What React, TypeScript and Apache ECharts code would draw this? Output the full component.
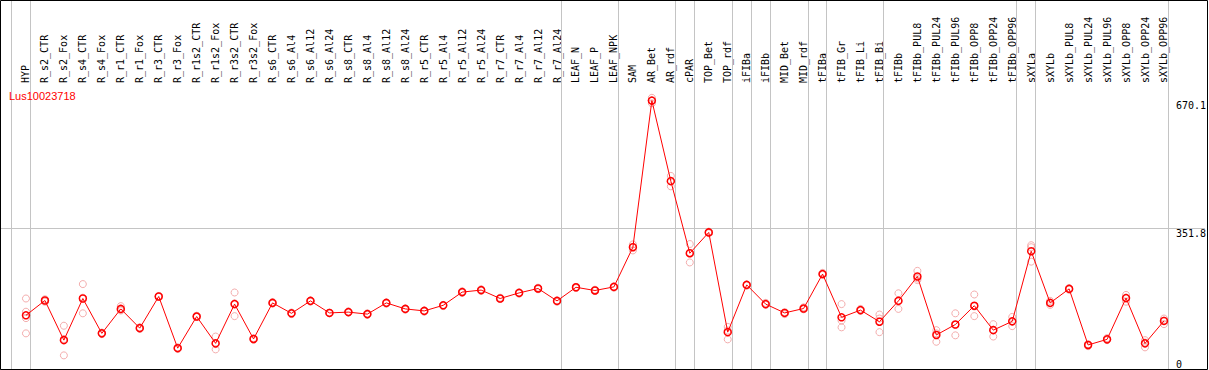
import { useEffect, useRef } from 'react';
import * as echarts from 'echarts';

const seriesName = 'Lus10023718';

const categories = [
  'HYP', 'R_s2_CTR', 'R_s2_Fox', 'R_s4_CTR', 'R_s4_Fox', 'R_r1_CTR', 'R_r1_Fox', 'R_r3_CTR', 'R_r3_Fox',
  'R_r1s2_CTR', 'R_r1s2_Fox', 'R_r3s2_CTR', 'R_r3s2_Fox', 'R_s6_CTR', 'R_s6_Al4', 'R_s6_Al12', 'R_s6_Al24',
  'R_s8_CTR', 'R_s8_Al4', 'R_s8_Al12', 'R_s8_Al24', 'R_r5_CTR', 'R_r5_Al4', 'R_r5_Al12', 'R_r5_Al24',
  'R_r7_CTR', 'R_r7_Al4', 'R_r7_Al12', 'R_r7_Al24', 'LEAF_N', 'LEAF_P', 'LEAF_NPK', 'SAM', 'AR_Bet', 'AR_rdf',
  'cPAR', 'TOP_Bet', 'TOP_rdf', 'iFIBa', 'iFIBb', 'MID_Bet', 'MID_rdf', 'tFIBa', 'tFIB_Gr', 'tFIB_Li', 'tFIB_Bi',
  'tFIBb', 'tFIBb_PUL8', 'tFIBb_PUL24', 'tFIBb_PUL96', 'tFIBb_OPP8', 'tFIBb_OPP24', 'tFIBb_OPP96',
  'sXYLa', 'sXYLb', 'sXYLb_PUL8', 'sXYLb_PUL24', 'sXYLb_PUL96', 'sXYLb_OPP8', 'sXYLb_OPP24', 'sXYLb_OPP96',
];

const meanValues = [
  134, 171, 72, 176, 89, 150, 102, 181, 52,
  131, 64, 162, 75, 165, 139, 170, 140,
  142, 137, 165, 150, 145, 159, 192, 197,
  176, 190, 201, 170, 204, 196, 205, 304, 670.1, 469,
  289, 341, 92, 210, 162, 140, 151, 237, 129, 147, 118,
  170, 231, 85, 111, 158, 97, 119,
  294, 165, 200, 60, 74, 177, 64, 120,
];

const replicateValues = [
  [176, 143, 127, 89], [168, 172, 174], [108, 75, 34], [212, 178, 139], [87, 89, 91],
  [157, 148, 146], [100, 103, 104], [180, 182, 182], [50, 53, 54],
  [130, 131, 133], [81, 62, 49], [191, 164, 132], [73, 75, 77], [163, 165, 167],
  [137, 139, 141], [168, 170, 171], [139, 140, 141],
  [141, 142, 144], [135, 137, 139], [163, 165, 166], [148, 150, 151], [143, 145, 146],
  [157, 159, 160], [190, 192, 194], [195, 197, 199],
  [175, 176, 178], [188, 190, 191], [199, 201, 203], [168, 170, 171], [202, 204, 205],
  [195, 196, 198], [203, 205, 206], [311, 305, 296], [677, 670, 663.3], [482, 469, 456],
  [312, 290, 266], [339, 341, 343], [105, 96, 74], [208, 210, 211], [160, 162, 165],
  [137, 140, 142], [149, 151, 154], [235, 237, 240], [162, 121, 104], [145, 147, 150], [136, 126, 92],
  [189, 171, 150], [245, 226, 222], [97, 89, 68], [139, 111, 84], [186, 156, 132], [112, 98, 81], [130, 119, 107],
  [309, 304, 268], [160, 165, 170], [198, 200, 202], [57, 60, 62], [72, 74, 77], [185, 178, 168], [72, 66, 54],
  [126, 121, 112],
];

// number of categories in each sample group (separators drawn between groups)
const groupSizes = [1, 28, 3, 3, 1, 2, 1, 1, 2, 1, 3, 7, 1, 7];

const yTickLabels = [0, 351.8, 670.1];

const MONO = 'DejaVu Sans Mono';

export default function App() {
  const ref = useRef<HTMLDivElement>(null);

  useEffect(() => {
    document.body.style.margin = '0';
    const chart = echarts.init(ref.current!, null, { renderer: 'svg' });

    const xMin = -25 / 19;
    const xMax = xMin + 1206 / 19;
    const sepOffset = 0.22;

    const sepIdx: number[] = [-1];
    let acc = -1;
    groupSizes.forEach((s) => {
      acc += s;
      sepIdx.push(acc);
    });

    const markData: any[] = sepIdx.map((i) => [
      { xAxis: i + sepOffset, y: 0 },
      { xAxis: i + sepOffset, y: 369 },
    ]);
    markData.push({ yAxis: yTickLabels[1] });

    chart.setOption({
      animation: false,
      title: {
        text: seriesName,
        left: 9,
        top: 90,
        padding: 0,
        textStyle: { color: '#ff0000', fontSize: 11, fontWeight: 'normal', fontFamily: 'Liberation Sans' },
      },
      grid: { left: 1, right: 2, top: 85, bottom: 1, containLabel: false },
      xAxis: {
        type: 'value',
        position: 'top',
        min: xMin,
        max: xMax,
        axisLine: { show: true, lineStyle: { color: '#000', width: 1 } },
        axisTick: { show: false },
        splitLine: { show: false },
        axisLabel: {
          customValues: categories.map((_, i) => i),
          formatter: (v: number) => categories[Math.round(v)] ?? '',
          rotate: 90,
          margin: 2,
          fontFamily: MONO,
          fontSize: 10,
          color: '#000',
        },
      },
      yAxis: {
        type: 'value',
        position: 'right',
        min: 0,
        max: 709,
        axisLine: { show: false },
        axisTick: { show: false },
        splitLine: { show: false },
        axisLabel: {
          inside: true,
          align: 'left',
          margin: 29,
          customValues: yTickLabels,
          formatter: (v: number) => (v === 0 ? `{b|${v}}` : `{t|${v}}`),
          rich: {
            t: { padding: [10, 0, 0, 0], fontFamily: MONO, fontSize: 10, color: '#000' },
            b: { padding: [0, 0, 10, 0], fontFamily: MONO, fontSize: 10, color: '#000' },
          },
        },
      },
      graphic: [
        {
          type: 'rect',
          silent: true,
          z: 100,
          shape: { x: 0.5, y: 0.5, width: 1207, height: 369 },
          style: { fill: 'none', stroke: '#000', lineWidth: 1 },
        },
      ],
      series: [
        {
          type: 'line',
          data: [],
          silent: true,
          z: 1,
          markLine: {
            silent: true,
            symbol: ['none', 'none'],
            label: { show: false },
            z: 1,
            lineStyle: { color: '#c4c4c4', type: 'solid', width: 1 },
            emphasis: { disabled: true },
            data: markData,
          },
        },
        {
          type: 'scatter',
          name: 'replicates',
          silent: true,
          z: 2,
          symbol: 'circle',
          symbolSize: 7,
          itemStyle: { color: 'rgba(0,0,0,0)', borderColor: '#f09898', borderWidth: 1 },
          data: replicateValues.flatMap((reps, i) => reps.map((v) => [i, v])),
        },
        {
          type: 'line',
          name: seriesName,
          silent: true,
          z: 3,
          symbol: 'circle',
          symbolSize: 7,
          showAllSymbol: true,
          lineStyle: { color: '#ff0000', width: 1 },
          itemStyle: { color: 'rgba(0,0,0,0)', borderColor: '#ff0000', borderWidth: 1.5 },
          data: meanValues.map((v, i) => [i, v]),
        },
      ],
    });

    return () => {
      chart.dispose();
    };
  }, []);

  return <div ref={ref} style={{ position: 'absolute', left: 0, top: 0, width: 1209, height: 370 }} />;
}
